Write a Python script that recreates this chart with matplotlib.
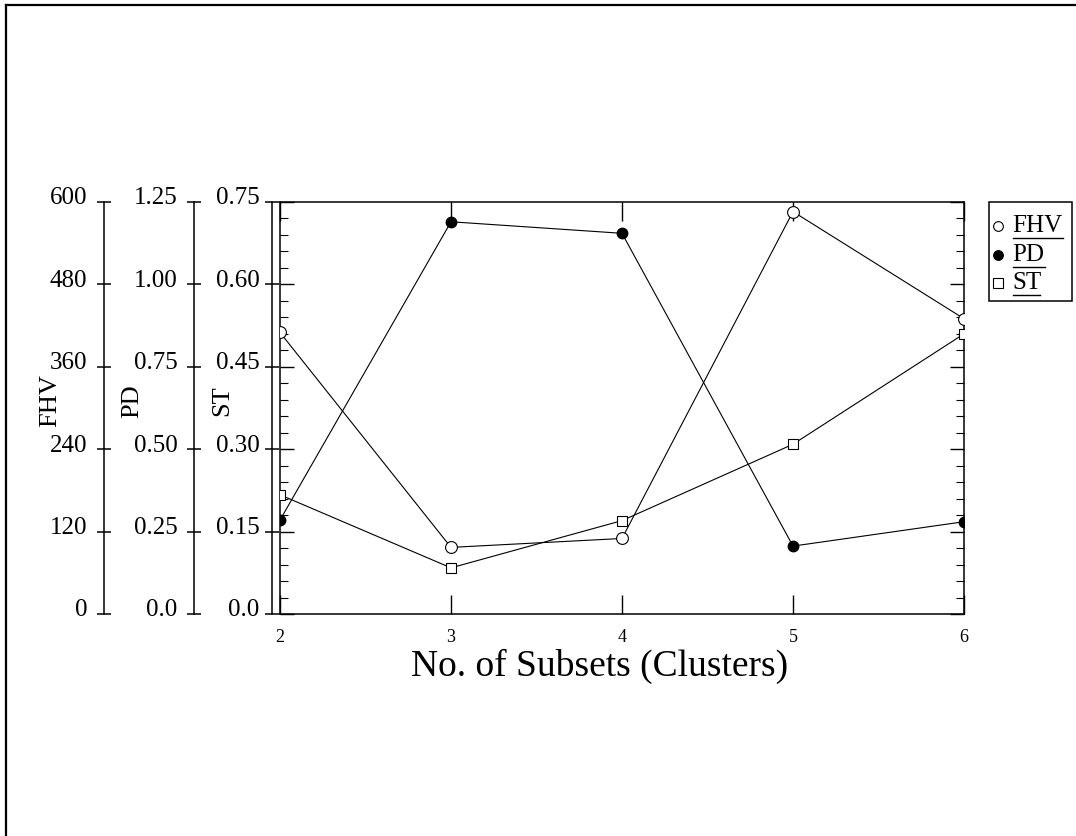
import matplotlib
matplotlib.use('Agg')
import matplotlib.pyplot as plt
from matplotlib.lines import Line2D
from matplotlib.patches import Rectangle
from matplotlib.ticker import MultipleLocator
from matplotlib.transforms import ScaledTranslation

plt.rcParams['font.family'] = ['Liberation Serif', 'DejaVu Serif']

# values
subsets = [2, 3, 4, 5, 6]
fhv = [410, 97, 110, 586, 430]
pd_vals = [0.285, 1.19, 1.155, 0.206, 0.28]
st = [0.217, 0.084, 0.170, 0.309, 0.51]

fhv_ticks = [0, 120, 240, 360, 480, 600]
fhv_labels = ['0', '120', '240', '360', '480', '600']
pd_ticks = [0, 0.25, 0.5, 0.75, 1.0, 1.25]
pd_labels = ['0.0', '0.25', '0.50', '0.75', '1.00', '1.25']
st_ticks = [0, 0.15, 0.30, 0.45, 0.60, 0.75]
st_labels = ['0.0', '0.15', '0.30', '0.45', '0.60', '0.75']

W, H = 1076, 836
fig = plt.figure(figsize=(W / 100, H / 100), dpi=100)


def fx(px):
    return px / W


def fy(py):
    return 1 - py / H


# plot box in pixels
L, R, T, B = 280, 964, 202, 614
ax = fig.add_axes([fx(L), fy(B), (R - L) / W, (B - T) / H])
# tick labels sit a little above their ticks in the original
lift = ScaledTranslation(0, 6 / 100, fig.dpi_scale_trans)


def side_axis(spine_px, top, ticks, labels, name, label_px, pad):
    a = ax.twinx()
    a.set_ylim(0, top)
    for s in ['top', 'bottom', 'right']:
        a.spines[s].set_visible(False)
    a.spines['left'].set_visible(True)
    a.spines['left'].set_linewidth(1.1)
    a.spines['left'].set_position(('axes', (spine_px - L) / (R - L)))
    a.yaxis.set_ticks_position('left')
    a.yaxis.set_label_position('left')
    a.set_yticks(ticks, labels)
    a.tick_params(axis='y', direction='inout', length=10, width=1.1,
                  labelsize=18, pad=pad)
    for t in a.yaxis.get_major_ticks():
        t.label1.set_transform(t.label1.get_transform() + lift)
    a.set_ylabel(name, fontsize=19, va='center')
    a.yaxis.set_label_coords((label_px - L) / (R - L), (B - 401) / (B - T))
    return a


ax_fhv = side_axis(104, 600, fhv_ticks, fhv_labels, 'FHV', 50, 7)
ax_pd = side_axis(194, 1.25, pd_ticks, pd_labels, 'PD', 132, 7)
ax_st = side_axis(272, 0.75, st_ticks, st_labels, 'ST', 222, 4)

# main box
ax.set_xlim(2, 6)
ax.set_ylim(0, 0.75)
ax.set_xticks(subsets)
ax.yaxis.set_major_locator(MultipleLocator(0.15))
ax.yaxis.set_minor_locator(MultipleLocator(0.03))
ax.tick_params(axis='x', direction='in', top=True, bottom=True,
               length=14, width=1, labelsize=13, pad=11)
ax.tick_params(axis='y', which='major', direction='in', left=True, right=True,
               length=10, width=1, labelleft=False, labelright=False)
ax.tick_params(axis='y', which='minor', direction='in', left=True, right=True,
               length=6, width=0.8)
for s in ax.spines.values():
    s.set_linewidth(1.1)
ax.set_xlabel('No. of Subsets (Clusters)', fontsize=27, va='center')
ax.xaxis.set_label_coords((600 - L) / (R - L), (B - 666) / (B - T))

ax_fhv.plot(subsets, fhv, color='black', lw=0.8, marker='o', ms=8.5,
            mfc='white', mec='black', mew=0.8)
ax_pd.plot(subsets, pd_vals, color='black', lw=0.8, marker='o', ms=7.5,
           mfc='black', mec='black')
ax_st.plot(subsets, st, color='black', lw=0.8, marker='s', ms=7.5,
           mfc='white', mec='black', mew=0.8)

# legend box drawn by hand
fig.add_artist(Rectangle((fx(989), fy(301)), (1072 - 989) / W, (301 - 202) / H,
                         transform=fig.transFigure, fill=False, lw=1.1,
                         ec='black'))
leg = [('FHV', 'o', 'white', 226, 1063),
       ('PD', 'o', 'black', 255, 1045),
       ('ST', 's', 'white', 283, 1040)]
for name, mk, fc, yc, ul_end in leg:
    fig.add_artist(Line2D([fx(998)], [fy(yc)], marker=mk, ms=7, mfc=fc,
                          mec='black', mew=0.8, transform=fig.transFigure))
    fig.text(fx(1012), fy(yc), name, fontsize=18, ha='left', va='center')
    fig.add_artist(Line2D([fx(1013), fx(ul_end)], [fy(yc + 12)] * 2,
                          color='black', lw=1, transform=fig.transFigure))

# page frame, top and left edges
fig.add_artist(Line2D([fx(6), fx(1076)], [fy(5)] * 2, color='black', lw=1.6,
                      transform=fig.transFigure))
fig.add_artist(Line2D([fx(6)] * 2, [fy(5), fy(836)], color='black', lw=1.6,
                      transform=fig.transFigure))

fig.savefig('out.png', dpi=100)
